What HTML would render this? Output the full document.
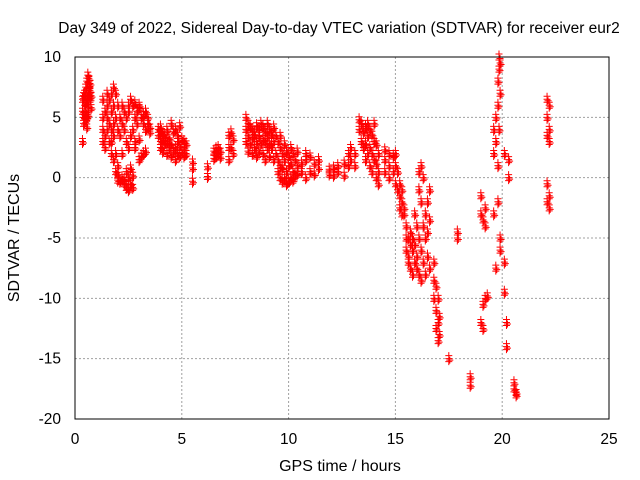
<!DOCTYPE html>
<html><head><meta charset="utf-8"><style>
body{margin:0;background:#fff;}
svg{display:block;font-family:"Liberation Sans",sans-serif;}
</style></head><body>
<svg id="chart" width="640" height="480" viewBox="0 0 640 480" xmlns="http://www.w3.org/2000/svg">
<rect width="640" height="480" fill="#fff"/>
<text x="339" y="33" font-size="15.5" text-anchor="middle" fill="#000">Day 349 of 2022, Sidereal Day-to-day VTEC variation (SDTVAR) for receiver eur2</text>
<g id="grid"></g>
<g id="ticks"></g>
<g id="marks"></g>
<rect x="75" y="57" width="534" height="362" fill="none" stroke="#000" stroke-width="1"/>
<text x="340" y="471" font-size="16" text-anchor="middle">GPS time / hours</text>
<text transform="translate(19,238) rotate(-90)" font-size="16" text-anchor="middle">SDTVAR / TECUs</text>
</svg>
<script>
const xTicks=[0,5,10,15,20,25];
const yTicks=[10,5,0,-5,-10,-15,-20];
const gpsHours=[0.35,0.4,0.45,0.5,0.55,0.6,0.65,0.7,0.75,
1.3,1.4,1.5,1.6,1.7,1.8,1.9,2.0,2.1,2.2,2.3,2.4,2.5,2.6,2.7,2.8,2.9,3.0,3.1,3.2,3.3,3.4,3.5,
3.9,4.0,4.1,4.2,4.3,4.4,4.5,4.6,4.7,4.8,4.9,5.0,5.1,5.2,
5.5,6.2,6.5,6.6,6.7,6.8,7.2,7.3,7.4,
8.0,8.1,8.2,8.3,8.4,8.5,8.6,8.7,8.8,8.9,9.0,9.1,9.2,9.3,9.4,
9.5,9.6,9.7,9.8,9.9,10.0,10.1,10.2,10.3,10.4,10.6,10.8,11.0,11.2,11.4,
11.9,12.1,12.3,12.6,12.8,12.9,13.1,
13.3,13.4,13.5,13.6,13.7,13.8,13.9,14.0,14.1,14.2,
14.5,14.7,14.9,15.0,15.1,15.2,15.3,15.4,
15.5,15.6,15.7,15.8,15.9,16.0,16.1,16.2,16.3,16.4,16.5,16.6,
16.8,16.9,17.0,17.05,17.5,17.9,18.5,
19.0,19.1,19.2,19.3,19.6,19.7,19.8,19.85,19.9,
20.1,20.2,20.3,20.55,20.65,22.1,22.2];
const sdtvarGroups=[[5.5,6.5,3],[6.8,5,4.5],[6,5.2,7],[4.8,5.5,6.2,7.5],[5,6.5,8,4.2],[7,8.5,6,5.2],[8.2,7.5,6.8],[7.8,6.5,7.2],[6.8,5.8],
[3,4,5,6.5],[2.5,3.5,5.5],[4,5,6,7],[3,4.5,6.5],[2,3,4,5.5,7],[1.5,3.5,4.5,6,7.5],[0.5,2,5,7],[-0.2,0.2,1,4,6],[-0.3,3.5,5],[0,2,4.5,6],[-0.5,-0.2,4,5.5],[0.5,-0.8,3,5],[-1,0,2.5,5.5,6],[-0.5,0.8,3.5,6.5],[-0.8,0.2,4,6],[2.5,3,5,6.2],[4.5,5.5],[1.5,3.2,5.8,6],[1.8,5],[2,4.5,5.2],[2.2,4,5.5],[4.5,5],[3.8,4.2],
[3.5,4],[2.5,3,3.8,4.2],[2.2,3.2,3.6],[2.8,3.5],[2,3,4],[2.5,3.3],[1.8,2.8,4.5],[2.2,3.8],[1.5,2.5,4],[2,3,3.5],[1.8,2.6,4.3],[2.1,3.2],[1.8,2.5,3],[2,2.8],
[-0.3,0.8,1.3],[0.1,0.9],[1.6,2.2],[1.8,2.4],[2,2.5],[1.7,2.2],[1.5,2.5,3.5],[2.5,3.8],[2,3.2],
[3,4,5],[2.2,3.5,4.5],[2.8,4.2],[2,3.3,4],[2.5,3.6],[1.8,3,4.3],[2.2,3.5,4],[2.8,4.5],[2,3.2,4.2],[1.5,3,3.8],[2.5,3.5,4.5],[1.8,2.8,4],[2.5,3.6],[1.5,3,4.2],[2,3.5],
[0.5,1.5,3],[0,1,2.5,3.5],[-0.3,0.8,2],[0,1.5,2.8],[-0.5,0.5,2.2],[-0.3,1,1.8],[0,1.2,2.5],[-0.2,0.5,2],[0.2,1.5],[0.3,1,2.2],[0.5,1.2],[0,1.5,2],[0.5,1.8],[0.3,1.2],[0.8,1.5],
[0.3,0.7],[0.2,0.8],[0.5,1],[0.2,1.2],[1,2],[1.5,2.5],[1,2],
[4,4.8],[3,4.5],[2.5,3.8],[1.5,2.8,4.2],[2,3.5,4.5],[1,2.5,4],[0.5,2,3.6],[1.5,3,4.5],[0,1.2,2.8],[-0.5,0.5,2],
[0.5,1.5,2.3],[0,1,2],[0.5,1.8],[-0.5,1,2],[-1,0.5],[-0.5,-1.5,-2.5],[-1,-2,-3],[-2.5,-3],
[-4,-5,-6],[-5,-6.5,-7],[-4.5,-5.5,-7.5],[-5,-6,-8],[-3,-5.5,-7],[-4,-6.5,-7.5],[-1,0.5,-5,-8],[1,-2,-6,-8.5],[0,-4,-7],[-3,-5,-8],[-2,-4.5,-6.5],[-1,-3.5,-7.5],
[-7,-8.5,-10],[-9,-11,-12.5],[-10,-12,-13.5],[-11.5,-13],[-15],[-4.5,-5],[-16.5,-17.2],
[-1.5,-3,-12],[-3.5,-10.5,-12.5],[-2.5,-4,-10],[-9.8],[2,4,-3],[3,5,-7.5],[6,8,-2,1],[9,10,4],[9.5,7,-5,-6],
[2,-7,-9.5],[-12,-14],[0,1.5],[-17,-17.5],[-17.8,-18],[6.5,5,3.5,-0.5,-2],[6,4,3,-1.5,-2.5]];
const L=75,R=609,T=57,B=419;
const sx=v=>L+(v-0)/25*(R-L);
const sy=v=>T+(10-v)/30*(B-T);
const NS='http://www.w3.org/2000/svg';
const grid=document.getElementById('grid'),ticks=document.getElementById('ticks'),marks=document.getElementById('marks');
xTicks.forEach(t=>{
  const x=sx(t);
  if(t>0&&t<25){const g=document.createElementNS(NS,'line');
    
    
    g.setAttribute('x1',x);g.setAttribute('x2',x);g.setAttribute('y1',T);g.setAttribute('y2',B);
    g.setAttribute('stroke','#a0a0a0');g.setAttribute('stroke-dasharray','2,2');grid.appendChild(g);}
  const tx=document.createElementNS(NS,'text');
  
  
  tx.setAttribute('x',x);tx.setAttribute('y',444);tx.setAttribute('font-size','15.5');tx.setAttribute('text-anchor','middle');
  tx.textContent=t;ticks.appendChild(tx);
});
yTicks.forEach(t=>{
  const y=sy(t);
  if(t<10&&t>-20){const g=document.createElementNS(NS,'line');
    
    
    g.setAttribute('x1',L);g.setAttribute('x2',R);g.setAttribute('y1',y);g.setAttribute('y2',y);
    g.setAttribute('stroke','#a0a0a0');g.setAttribute('stroke-dasharray','2,2');grid.appendChild(g);}
  const tx=document.createElementNS(NS,'text');
  
  
  tx.setAttribute('x',61);tx.setAttribute('y',y+5);tx.setAttribute('font-size','15.5');tx.setAttribute('text-anchor','end');
  tx.textContent=t;ticks.appendChild(tx);
});
let d='';
gpsHours.forEach((h,i)=>{
  (sdtvarGroups[i]||[]).forEach(v=>{
    const x=sx(h),y=sy(v);
    [[0,0],[0,3],[0,-3],[1,1.5]].forEach(o=>{
      d+=`M${x+o[0]-3.5},${y+o[1]}h7M${x+o[0]},${y+o[1]-3.5}v7`;
    });
  });
});
const p=document.createElementNS(NS,'path');


p.setAttribute('d',d);p.setAttribute('stroke','#ff0000');p.setAttribute('stroke-width','1');p.setAttribute('fill','none');
marks.appendChild(p);
</script>
</body></html>
